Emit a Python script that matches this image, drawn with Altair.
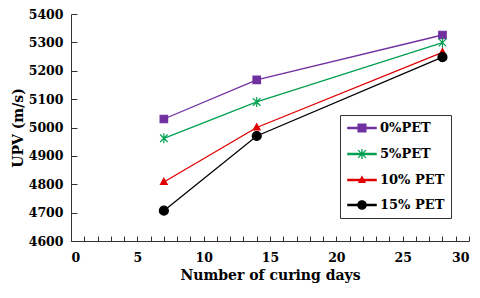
import altair as alt
import pandas as pd

days = [7, 14, 28]
series = ["0%PET", "5%PET", "10% PET", "15% PET"]
upv_0 = [5030, 5168, 5326]
upv_5 = [4962, 5090, 5299]
upv_10 = [4808, 5000, 5265]
upv_15 = [4707, 4970, 5248]
colors = ["#7030A0", "#00A050", "#E00000", "#000000"]
y_ticks = list(range(4600, 5401, 100))
x_labels = [0, 5, 10, 15, 20, 25, 30]
x_minor = list(range(0, 31))

rows = []
for name, vals in zip(series, [upv_0, upv_5, upv_10, upv_15]):
    for d, v in zip(days, vals):
        rows.append({"day": d, "upv": v, "series": name})
df = pd.DataFrame(rows)

FONT = "DejaVu Serif"

marker_paths = [
    "M-0.75,-0.75H0.75V0.75H-0.75Z",
    "M0,-1V1M-0.75,-0.75L0.75,0.75M-0.75,0.75L0.75,-0.75",
    "M0,-0.75L0.68,0.5H-0.68Z",
    "M-0.9,0A0.9,0.9 0 1,0 0.9,0A0.9,0.9 0 1,0 -0.9,0Z",
]
BAR = "M-2.35,-0.11H2.35V0.11H-2.35Z"
legend_paths = [
    BAR + "M-0.65,-0.65H0.65V0.65H-0.65Z",
    BAR + "M0,-0.85V0.85M-0.65,-0.65L0.65,0.65M-0.65,0.65L0.65,-0.65",
    BAR + "M0,-0.55L0.5,0.4H-0.5Z",
    BAR + "M-0.7,0A0.7,0.7 0 1,0 0.7,0A0.7,0.7 0 1,0 -0.7,0Z",
]

xs = alt.Scale(domain=[0, 30], nice=False)
ys = alt.Scale(domain=[4600, 5400], nice=False, zero=False)

base = alt.Chart(df)

axes_layer = base.mark_point(opacity=0).encode(
    x=alt.X("day:Q", scale=xs, axis=alt.Axis(
        orient="bottom", values=x_labels, ticks=False, tickSize=0, labelPadding=10,
        format="d", title="Number of curing days", titlePadding=5, grid=False)),
    y=alt.Y("upv:Q", scale=ys, axis=alt.Axis(
        orient="left", values=y_ticks, ticks=False, tickSize=0, labelPadding=8,
        format="d", title="UPV (m/s)", titlePadding=3, grid=False)),
)

ticks = base.mark_point(opacity=0).encode(
    x=alt.X("day:Q", scale=xs, axis=alt.Axis(
        orient="bottom", values=x_minor, tickSize=5, offset=-5, labels=False,
        domain=False, title=None, grid=False)),
    y=alt.Y("upv:Q", scale=ys, axis=alt.Axis(
        orient="left", values=y_ticks, tickSize=6, offset=-6, labels=False,
        domain=False, title=None, grid=False)),
)

series_layers = []
for s, c, path in zip(series, colors, marker_paths):
    sub = base.transform_filter(alt.datum.series == s)
    series_layers.append(sub.mark_line(strokeWidth=1.3, color=c).encode(
        x=alt.X("day:Q", scale=xs, axis=None),
        y=alt.Y("upv:Q", scale=ys, axis=None)))
    series_layers.append(sub.mark_point(filled=True, size=100, strokeWidth=1.2, opacity=1,
                                        shape=path, fill=c, stroke=c).encode(
        x=alt.X("day:Q", scale=xs, axis=None),
        y=alt.Y("upv:Q", scale=ys, axis=None)))

color_scale = alt.Scale(domain=series, range=colors)
leg = alt.Legend(orient="none", legendX=269, legendY=101, title=None)
legend_layer = base.mark_point(filled=True, size=144, opacity=0, strokeWidth=1.3).encode(
    x=alt.X("day:Q", scale=xs, axis=None),
    y=alt.Y("upv:Q", scale=ys, axis=None),
    fill=alt.Fill("series:N", scale=color_scale, legend=leg),
    stroke=alt.Stroke("series:N", scale=color_scale, legend=leg),
    shape=alt.Shape("series:N", scale=alt.Scale(domain=series, range=legend_paths), legend=leg),
)

chart = alt.layer(axes_layer, ticks, *series_layers, legend_layer).resolve_axis(
    x="independent", y="independent"
).properties(
    width=398, height=227,
    autosize=alt.AutoSizeParams(type="none"),
    padding={"left": 63, "top": 6, "right": 3, "bottom": 49},
).configure_view(stroke=None).configure_axis(
    domainColor="#333", tickColor="#333", domainWidth=1, tickWidth=1,
    labelFont=FONT, labelFontSize=12.5, labelFontWeight="bold", labelColor="black",
    titleFont=FONT, titleFontSize=14, titleFontWeight="bold", titleColor="black",
).configure_legend(
    strokeColor="#333", fillColor="white", padding=6, rowPadding=11,
    symbolSize=144, symbolStrokeWidth=1.3, symbolOpacity=1, symbolOffset=9,
    labelOffset=11, labelFont=FONT, labelFontSize=13, labelFontWeight="bold",
    labelColor="black",
)

chart.save("out.html", embed_options={"renderer": "svg", "actions": False})
